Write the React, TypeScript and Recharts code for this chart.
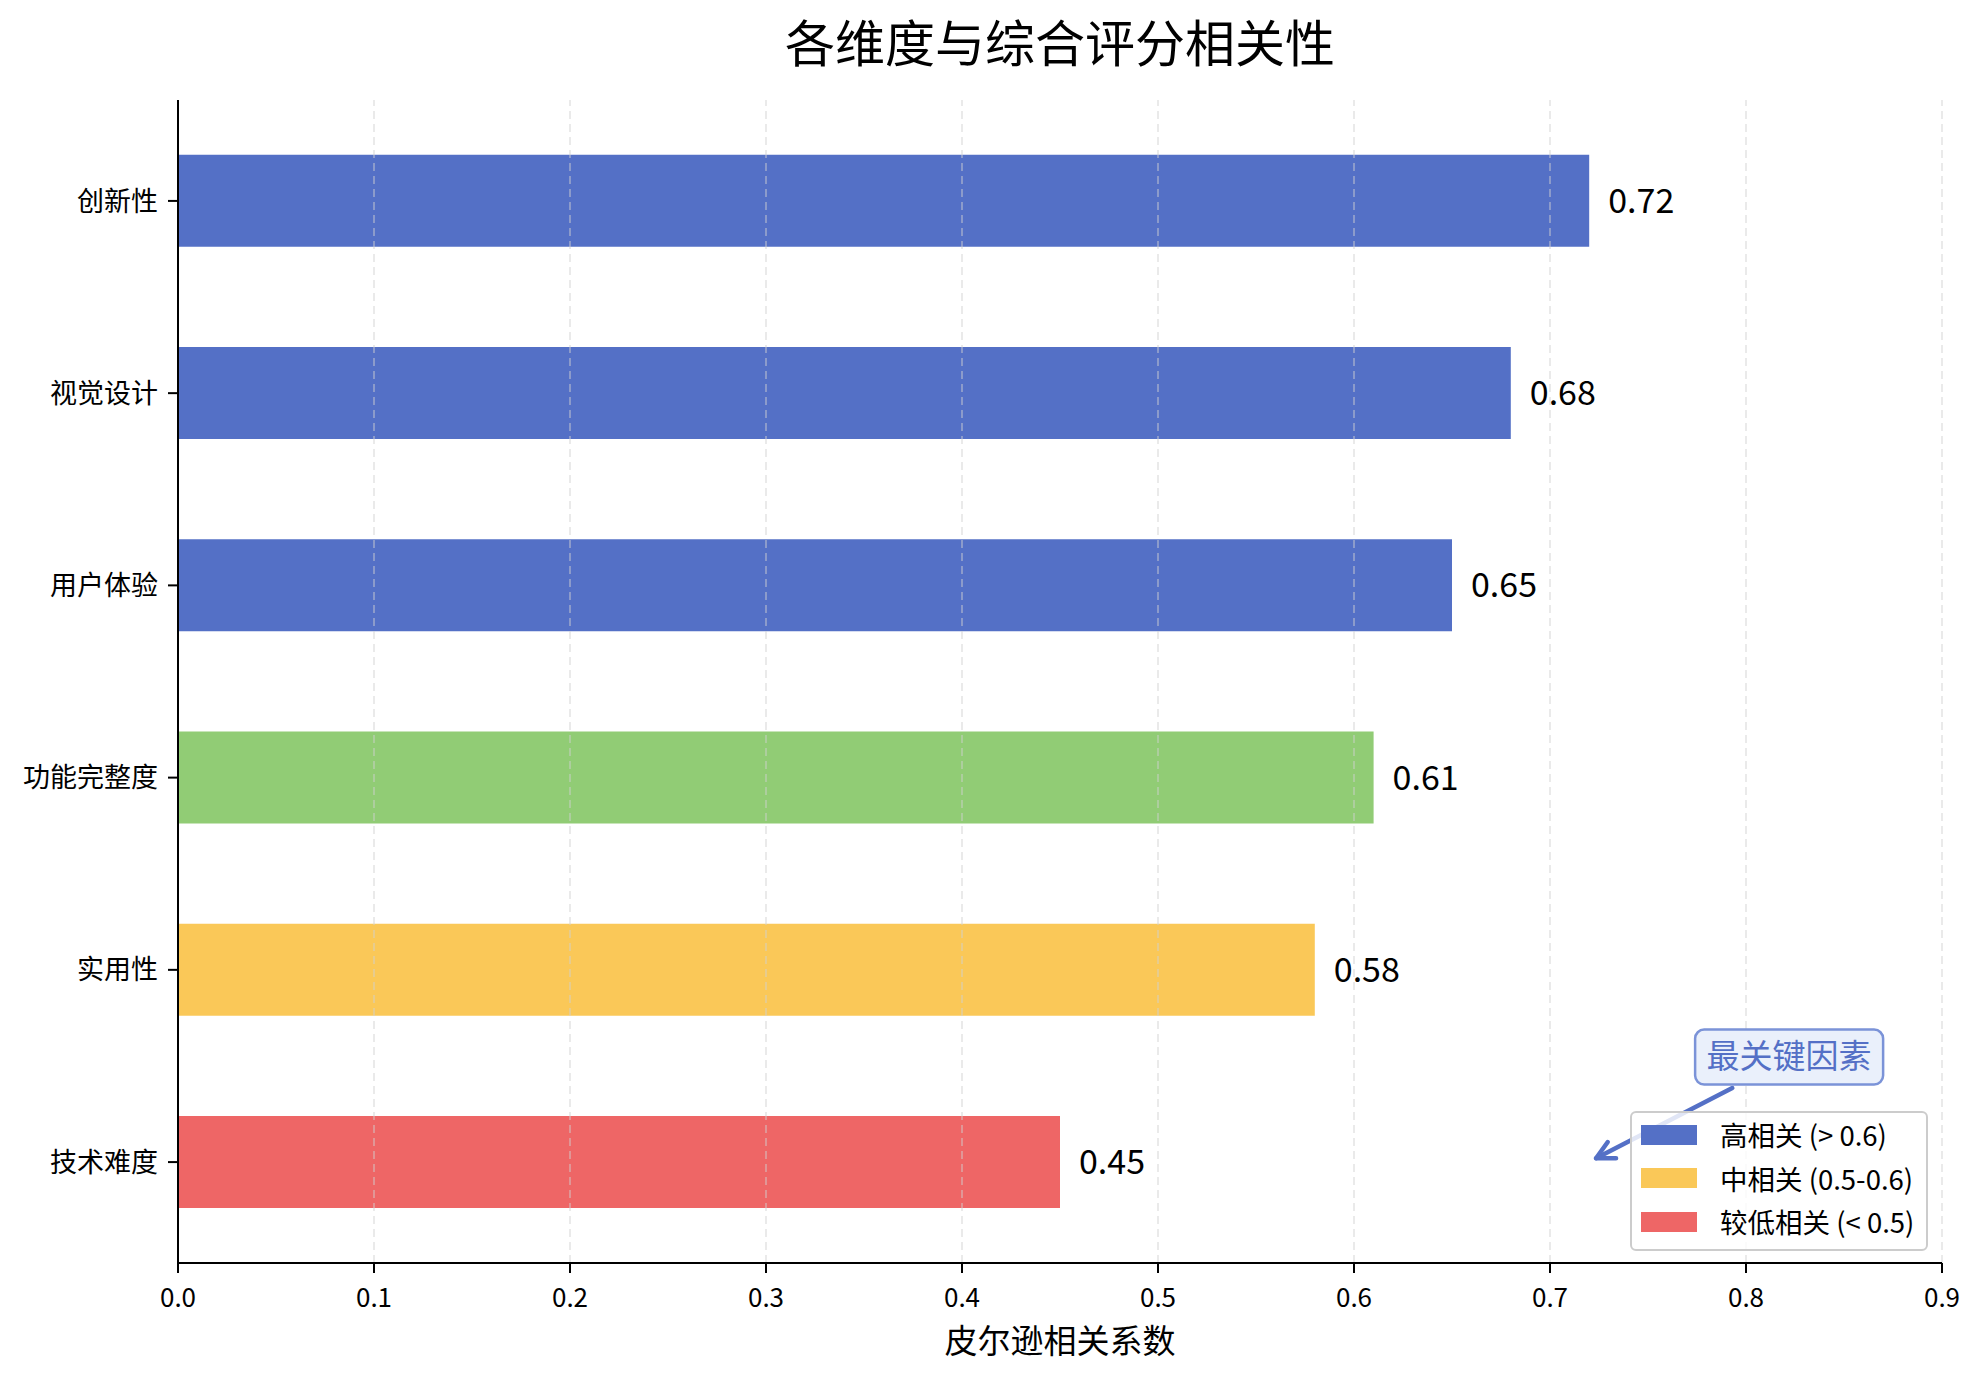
import React from "react";
import {
  BarChart,
  Bar,
  XAxis,
  YAxis,
  Cell,
  LabelList,
  Legend,
  ReferenceLine,
  ReferenceDot,
} from "recharts";

const FONT = '"Noto Sans CJK SC", "Noto Sans", sans-serif';

const DIMENSIONS = ["创新性", "视觉设计", "用户体验", "功能完整度", "实用性", "技术难度"];
const CORRELATIONS = [0.72, 0.68, 0.65, 0.61, 0.58, 0.45];
const BAR_COLORS = ["#5470c6", "#5470c6", "#5470c6", "#91cc75", "#fac858", "#ee6666"];
const X_TICKS = [0, 0.1, 0.2, 0.3, 0.4, 0.5, 0.6, 0.7, 0.8, 0.9];

const LEGEND_LABELS = ["高相关 (> 0.6)", "中相关 (0.5-0.6)", "较低相关 (< 0.5)"];
const LEGEND_COLORS = ["#5470c6", "#fac858", "#ee6666"];

const TITLE = "各维度与综合评分相关性";
const X_LABEL = "皮尔逊相关系数";
const ANNOTATION_TEXT = "最关键因素";
// annotation anchors, in data units (x = correlation, y = row index)
const ANNOTATION_TEXT_AT = { x: 0.822, y: 4.454 };
const ARROW_FROM = { x: 0.793, y: 4.615 };
const ARROW_TO = { x: 0.7235, y: 4.98 };

const chartData = DIMENSIONS.map((name, i) => ({ name, row: i, value: CORRELATIONS[i] }));

function AnnotationBox(props: any) {
  const { cx, cy } = props;
  const w = 188;
  const h = 55;
  return (
    <g>
      <rect
        x={cx - w / 2}
        y={cy - h / 2}
        width={w}
        height={h}
        rx={9}
        fill="#eaf0fb"
        stroke="#7b93d8"
        strokeWidth={2.5}
      />
      <text
        x={cx}
        y={cy + 11}
        textAnchor="middle"
        fontSize={33}
        fill="#5470c6"
        fontFamily={FONT}
      >
        {ANNOTATION_TEXT}
      </text>
    </g>
  );
}

function Arrow(props: any) {
  const { x1, y1, x2, y2 } = props;
  const ang = Math.atan2(y1 - y2, x1 - x2);
  const len = 20;
  const spread = (27 * Math.PI) / 180;
  const ax = x2 + len * Math.cos(ang - spread);
  const ay = y2 + len * Math.sin(ang - spread);
  const bx = x2 + len * Math.cos(ang + spread);
  const by = y2 + len * Math.sin(ang + spread);
  return (
    <g stroke="#5470c6" strokeWidth={4.5} strokeLinecap="round" fill="none">
      <line x1={x1} y1={y1} x2={x2} y2={y2} />
      <polyline points={`${ax},${ay} ${x2},${y2} ${bx},${by}`} strokeLinejoin="round" />
    </g>
  );
}

function LegendBox() {
  return (
    <div
      style={{
        boxSizing: "border-box",
        width: 298,
        height: 140,
        border: "2px solid #cccccc",
        borderRadius: 6,
        background: "rgba(255,255,255,0.82)",
        paddingTop: 0,
        fontFamily: FONT,
      }}
    >
      {LEGEND_LABELS.map((label, i) => (
        <div
          key={label}
          style={{ display: "flex", alignItems: "center", height: 43.5 }}
        >
          <span
            style={{
              display: "inline-block",
              width: 56,
              height: 20,
              marginLeft: 9,
              background: LEGEND_COLORS[i],
            }}
          />
          <span style={{ marginLeft: 23, fontSize: 27.5, color: "#000", lineHeight: 1 }}>
            {label}
          </span>
        </div>
      ))}
    </div>
  );
}

export default function App() {
  return (
    <div
      style={{
        position: "absolute",
        left: 0,
        top: 0,
        width: 1979,
        height: 1380,
        background: "#fff",
        fontFamily: FONT,
      }}
    >
      <div
        style={{
          position: "absolute",
          left: 178,
          width: 1764,
          top: 15,
          textAlign: "center",
          fontSize: 50,
          lineHeight: "50px",
          color: "#000",
        }}
      >
        {TITLE}
      </div>
      <BarChart
        width={1979}
        height={1380}
        data={chartData}
        layout="vertical"
        margin={{ top: 100, right: 37, left: 0, bottom: 0 }}
      >
        <XAxis
          type="number"
          dataKey="value"
          domain={[0, 0.9]}
          ticks={X_TICKS}
          interval={0}
          allowDataOverflow
          tickFormatter={(v: number) => v.toFixed(1)}
          height={117}
          tickSize={10}
          tickMargin={16}
          axisLine={{ stroke: "#000", strokeWidth: 2 }}
          tickLine={{ stroke: "#000", strokeWidth: 2 }}
          tick={{ fill: "#000", fontSize: 26, fontFamily: FONT }}
          label={{
            value: X_LABEL,
            position: "insideBottom",
            offset: 27,
            fill: "#000",
            fontSize: 33,
            fontFamily: FONT,
          }}
        />
        <YAxis
          type="number"
          dataKey="row"
          domain={[-0.525, DIMENSIONS.length - 0.475]}
          ticks={DIMENSIONS.map((_, i) => i)}
          interval={0}
          allowDataOverflow
          tickFormatter={(v: number) => DIMENSIONS[v] ?? ""}
          width={178}
          tickSize={10}
          tickMargin={10}
          axisLine={{ stroke: "#000", strokeWidth: 2 }}
          tickLine={{ stroke: "#000", strokeWidth: 2 }}
          tick={{ fill: "#000", fontSize: 27, fontFamily: FONT }}
        />
        <Bar dataKey="value" barSize={92} isAnimationActive={false}>
          {chartData.map((d, i) => (
            <Cell key={d.name} fill={BAR_COLORS[i]} />
          ))}
          <LabelList
            dataKey="value"
            position="right"
            offset={19}
            fill="#000"
            fontSize={34}
            fontFamily={FONT}
            formatter={(v: any) => Number(v).toFixed(2)}
          />
        </Bar>
        {X_TICKS.filter((t) => t > 0).map((t) => (
          <ReferenceLine
            key={t}
            x={t}
            stroke="#d0d0d0"
            strokeOpacity={0.45}
            strokeWidth={2}
            strokeDasharray="8 5"
          />
        ))}
        <ReferenceLine
          segment={[ARROW_FROM, ARROW_TO]}
          ifOverflow="visible"
          shape={(p: any) => <Arrow {...p} />}
        />
        <ReferenceDot
          x={ANNOTATION_TEXT_AT.x}
          y={ANNOTATION_TEXT_AT.y}
          ifOverflow="visible"
          shape={(p: any) => <AnnotationBox {...p} />}
        />
        <Legend
          layout="vertical"
          align="center"
          verticalAlign="middle"
          wrapperStyle={{ left: 1630, top: 1111, width: 298, height: 140 }}
          content={() => <LegendBox />}
        />
      </BarChart>
    </div>
  );
}
